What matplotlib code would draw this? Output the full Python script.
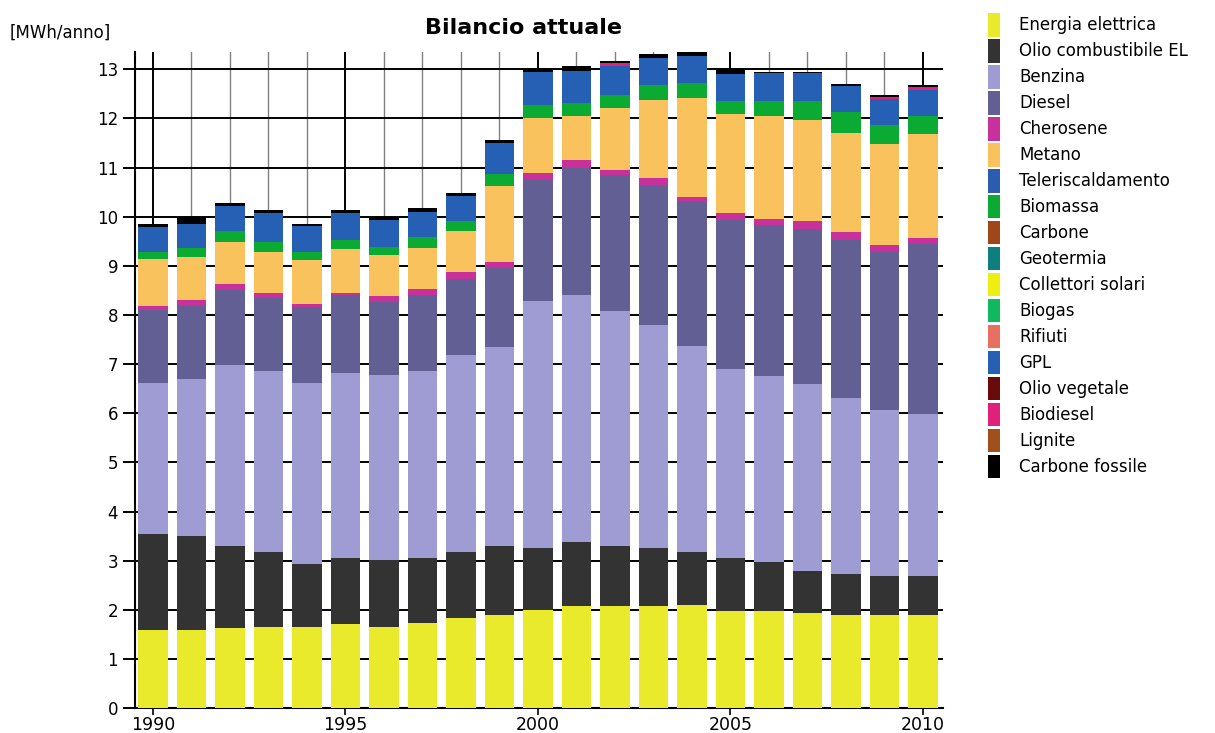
import numpy as np
import matplotlib
matplotlib.use("Agg")
import matplotlib.pyplot as plt
from matplotlib.ticker import MultipleLocator

years = np.arange(1990, 2011)

names = ["Energia elettrica", "Olio combustibile EL", "Benzina", "Diesel", "Cherosene",
         "Metano", "Teleriscaldamento", "Biomassa", "Carbone", "Geotermia",
         "Collettori solari", "Biogas", "Rifiuti", "GPL", "Olio vegetale",
         "Biodiesel", "Lignite", "Carbone fossile"]

colors = ["#E9EA2B", "#333333", "#9E9CD3", "#625F94", "#C8319B",
          "#F9C25C", "#2A5DB0", "#0BAA32", "#A0461B", "#0E7F7F",
          "#EEEE10", "#10B860", "#E87060", "#2660B4", "#6B0A0A",
          "#E0207A", "#A0501C", "#000000"]

energia_elettrica = [1.58, 1.58, 1.63, 1.66, 1.66, 1.71, 1.66, 1.74, 1.83, 1.90, 1.99,
                     2.07, 2.07, 2.07, 2.10, 1.97, 1.97, 1.94, 1.90, 1.90, 1.90]
olio_combustibile = [1.97, 1.93, 1.67, 1.52, 1.27, 1.34, 1.35, 1.31, 1.35, 1.40, 1.27,
                     1.30, 1.22, 1.19, 1.08, 1.08, 1.00, 0.84, 0.83, 0.78, 0.78]
benzina = [3.07, 3.19, 3.69, 3.67, 3.69, 3.76, 3.76, 3.80, 4.00, 4.04, 5.03,
           5.04, 4.80, 4.54, 4.18, 3.84, 3.79, 3.82, 3.58, 3.39, 3.31]
diesel = [1.49, 1.48, 1.51, 1.50, 1.54, 1.59, 1.49, 1.56, 1.56, 1.62, 2.46,
          2.58, 2.75, 2.85, 2.95, 3.04, 3.07, 3.14, 3.21, 3.22, 3.46]
cherosene = [0.07, 0.13, 0.12, 0.10, 0.06, 0.05, 0.12, 0.12, 0.13, 0.11, 0.13,
             0.16, 0.11, 0.14, 0.10, 0.14, 0.12, 0.17, 0.16, 0.14, 0.12]
metano = [0.96, 0.86, 0.87, 0.84, 0.89, 0.89, 0.85, 0.84, 0.83, 1.55, 1.13,
          0.90, 1.26, 1.59, 2.01, 2.02, 2.10, 2.06, 2.03, 2.04, 2.11]
teleriscaldamento = [0.0] * 21
biomassa = [0.15, 0.20, 0.21, 0.19, 0.18, 0.18, 0.16, 0.22, 0.21, 0.25, 0.26,
            0.26, 0.26, 0.29, 0.29, 0.27, 0.31, 0.39, 0.41, 0.39, 0.37]
carbone = [0.0] * 21
geotermia = [0.0] * 21
collettori_solari = [0.0] * 21
biogas = [0.0] * 21
rifiuti = [0.0] * 21
gpl = [0.49, 0.49, 0.52, 0.59, 0.51, 0.55, 0.54, 0.51, 0.51, 0.62, 0.68,
       0.66, 0.60, 0.56, 0.56, 0.55, 0.56, 0.56, 0.54, 0.53, 0.52]
olio_vegetale = [0.0] * 21
biodiesel = [0, 0, 0, 0, 0, 0, 0, 0, 0, 0, 0,
             0, 0.06, 0, 0, 0, 0, 0, 0, 0.05, 0.07]
lignite = [0.0] * 21
carbone_fossile = [0.07, 0.13, 0.06, 0.06, 0.05, 0.06, 0.06, 0.07, 0.06, 0.06, 0.06,
                   0.10, 0.03, 0.08, 0.09, 0.09, 0.03, 0.03, 0.03, 0.03, 0.03]

series = [energia_elettrica, olio_combustibile, benzina, diesel, cherosene, metano,
          teleriscaldamento, biomassa, carbone, geotermia, collettori_solari, biogas,
          rifiuti, gpl, olio_vegetale, biodiesel, lignite, carbone_fossile]

fig = plt.figure(figsize=(12.15, 7.33), dpi=100)
ax = fig.add_axes([0.111, 0.034, 0.665, 0.895])

bottom = np.zeros(len(years))
for name, col, vals in zip(names, colors, series):
    vals = np.array(vals, dtype=float)
    ax.bar(years, vals, bottom=bottom, width=0.77, color=col, label=name,
           linewidth=0, zorder=3)
    bottom += vals

ax.set_xlim(1989.53, 2010.52)
ax.set_ylim(0, 13.35)

ax.yaxis.set_major_locator(MultipleLocator(1))
ax.xaxis.set_major_locator(MultipleLocator(5))
ax.xaxis.set_minor_locator(MultipleLocator(1))

ax.grid(axis="y", which="major", color="black", linewidth=1.4, zorder=0)
ax.grid(axis="x", which="major", color="black", linewidth=1.4, zorder=0)
ax.grid(axis="x", which="minor", color="#808080", linewidth=1.0, zorder=0)
ax.set_axisbelow(True)

for s in ["top", "right"]:
    ax.spines[s].set_visible(False)
ax.spines["left"].set_linewidth(1.5)
ax.spines["bottom"].set_linewidth(1.5)

ax.tick_params(axis="y", length=9, width=1.4, labelsize=12, pad=3)
ax.tick_params(axis="x", which="major", length=5, width=1.2, labelsize=12.5, pad=1)
ax.tick_params(axis="x", which="minor", length=0)

fig.text(0.431, 0.962, "Bilancio attuale", fontsize=16, fontweight="bold",
         ha="center", va="center")
fig.text(0.008, 0.956, "[MWh/anno]", fontsize=12, ha="left", va="center")

fig.legend(loc="upper left", bbox_to_anchor=(0.813, 0.982), frameon=False,
           fontsize=12, handlelength=0.75, handleheight=1.79, labelspacing=0.15,
           handletextpad=1.15, borderpad=0, borderaxespad=0)

fig.savefig("out.png", dpi=100)
